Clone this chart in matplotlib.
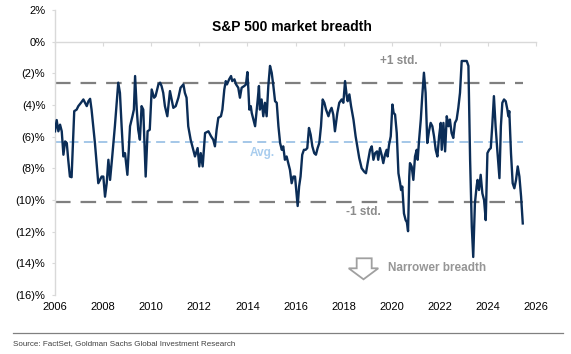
import matplotlib
matplotlib.use("Agg")
import matplotlib.pyplot as plt
import matplotlib.patches as mpatches
from matplotlib.ticker import FuncFormatter

plt.rcParams['font.family'] = ['Liberation Sans', 'DejaVu Sans']

years = [2006.00, 2006.07, 2006.14, 2006.21, 2006.28, 2006.35, 2006.42, 2006.49, 2006.55, 2006.62,
         2006.69, 2006.80, 2006.90, 2006.97, 2007.08, 2007.18, 2007.25, 2007.32, 2007.39, 2007.46,
         2007.52, 2007.66, 2007.80, 2007.94, 2008.01, 2008.08, 2008.15, 2008.22, 2008.29, 2008.38,
         2008.49, 2008.63, 2008.70, 2008.77, 2008.84, 2008.91, 2009.01, 2009.12, 2009.22, 2009.28,
         2009.33, 2009.40, 2009.46, 2009.53, 2009.60, 2009.67, 2009.77, 2009.85, 2009.94, 2010.02,
         2010.12, 2010.18, 2010.30, 2010.37, 2010.43, 2010.50, 2010.57, 2010.67, 2010.78, 2010.85,
         2010.92, 2011.02, 2011.13, 2011.22, 2011.34, 2011.40, 2011.47, 2011.54, 2011.64, 2011.75,
         2011.82, 2011.93, 2012.00, 2012.06, 2012.14, 2012.24, 2012.38, 2012.49, 2012.58, 2012.65,
         2012.72, 2012.79, 2012.90, 2012.96, 2013.04, 2013.10, 2013.15, 2013.24, 2013.32, 2013.37,
         2013.46, 2013.53, 2013.62, 2013.69, 2013.76, 2013.87, 2013.94, 2014.00, 2014.04, 2014.08,
         2014.14, 2014.18, 2014.25, 2014.32, 2014.43, 2014.48, 2014.52, 2014.59, 2014.66, 2014.73,
         2014.80, 2014.87, 2014.94, 2015.01, 2015.08, 2015.15, 2015.22, 2015.29, 2015.36, 2015.43,
         2015.49, 2015.56, 2015.63, 2015.70, 2015.77, 2015.84, 2015.91, 2015.98, 2016.09, 2016.15,
         2016.21, 2016.28, 2016.35, 2016.42, 2016.49, 2016.56, 2016.63, 2016.70, 2016.78, 2016.85,
         2016.92, 2016.99, 2017.06, 2017.13, 2017.20, 2017.27, 2017.37, 2017.43, 2017.50, 2017.57,
         2017.64, 2017.74, 2017.82, 2017.92, 2017.99, 2018.06, 2018.13, 2018.17, 2018.24, 2018.31,
         2018.41, 2018.50, 2018.57, 2018.65, 2018.75, 2018.85, 2018.93, 2019.00, 2019.10, 2019.17,
         2019.24, 2019.31, 2019.39, 2019.44, 2019.51, 2019.58, 2019.65, 2019.72, 2019.79, 2019.83,
         2019.89, 2019.96, 2020.03, 2020.08, 2020.14, 2020.21, 2020.28, 2020.35, 2020.39, 2020.44,
         2020.51, 2020.58, 2020.63, 2020.68, 2020.73, 2020.76, 2020.83, 2020.90, 2020.97, 2021.04,
         2021.08, 2021.14, 2021.21, 2021.27, 2021.34, 2021.41, 2021.48, 2021.55, 2021.62, 2021.69,
         2021.76, 2021.83, 2021.90, 2021.97, 2022.04, 2022.08, 2022.15, 2022.22, 2022.29, 2022.36,
         2022.42, 2022.49, 2022.56, 2022.63, 2022.70, 2022.77, 2022.84, 2022.91, 2023.12, 2023.19,
         2023.26, 2023.33, 2023.39, 2023.46, 2023.53, 2023.57, 2023.63, 2023.70, 2023.77, 2023.84,
         2023.91, 2023.98, 2024.05, 2024.12, 2024.18, 2024.25, 2024.32, 2024.39, 2024.48, 2024.54,
         2024.60, 2024.67, 2024.74, 2024.81, 2024.85, 2024.89, 2024.96, 2025.03, 2025.10, 2025.17,
         2025.24, 2025.31, 2025.38, 2025.45]

breadth = [-5.66, -4.95, -5.66, -5.24, -5.66, -7.14, -6.30, -6.40, -7.46, -8.52,
           -8.56, -4.39, -4.29, -4.07, -3.86, -3.65, -3.86, -4.07, -3.76, -3.61,
           -4.29, -6.40, -8.94, -8.52, -8.52, -9.79, -8.94, -7.46, -8.73, -7.25,
           -5.34, -2.59, -3.23, -5.34, -7.25, -7.04, -8.41, -5.34, -4.71, -4.29,
           -2.17, -4.29, -5.56, -6.19, -4.07, -4.29, -8.52, -5.66, -5.56, -3.02,
           -3.54, -3.44, -2.70, -2.59, -2.80, -3.23, -4.07, -4.71, -3.12, -3.65,
           -4.18, -4.07, -3.54, -2.91, -2.70, -3.23, -3.54, -5.34, -6.19, -6.83,
           -7.25, -6.72, -7.88, -7.04, -7.88, -5.77, -5.66, -5.98, -6.19, -6.61,
           -5.56, -4.81, -4.71, -4.29, -3.02, -2.49, -2.70, -2.38, -2.17, -2.49,
           -2.38, -2.70, -2.91, -3.54, -2.91, -2.80, -2.70, -1.92, -3.02, -4.29,
           -4.07, -4.50, -4.92, -5.34, -3.65, -2.80, -4.29, -3.65, -4.71, -3.86,
           -4.71, -2.80, -1.53, -1.96, -2.80, -3.76, -3.86, -5.34, -6.40, -6.83,
           -6.61, -7.46, -7.25, -7.67, -8.10, -8.94, -8.52, -8.52, -10.38, -9.15,
           -8.52, -7.14, -6.83, -6.83, -6.72, -5.45, -5.87, -6.61, -7.04, -7.14,
           -6.72, -6.40, -5.34, -3.65, -3.86, -4.29, -4.71, -4.39, -4.18, -4.60,
           -5.66, -4.50, -3.86, -3.65, -3.86, -2.49, -3.44, -3.76, -3.33, -4.07,
           -4.92, -5.98, -6.61, -7.35, -7.99, -8.20, -8.31, -7.67, -6.83, -6.61,
           -7.46, -7.04, -6.93, -7.46, -6.72, -7.14, -7.67, -7.14, -6.83, -7.25,
           -6.51, -5.98, -3.97, -4.50, -4.60, -5.77, -8.31, -8.94, -9.37, -9.15,
           -10.85, -11.27, -11.40, -11.97, -8.52, -7.67, -7.88, -8.73, -7.25, -6.83,
           -7.46, -6.19, -4.92, -3.44, -1.96, -3.23, -6.40, -5.66, -5.13, -5.34,
           -5.98, -6.83, -7.25, -5.98, -5.13, -6.83, -5.13, -6.93, -4.71, -5.34,
           -4.92, -5.77, -6.08, -5.13, -4.92, -4.18, -3.23, -1.22, -1.22, -1.53,
           -7.46, -11.69, -13.60, -10.21, -9.15, -8.73, -9.37, -8.41, -9.58, -10.00,
           -11.27, -7.04, -6.83, -6.72, -5.34, -3.44, -5.34, -6.83, -8.62, -5.34,
           -3.86, -3.65, -3.76, -4.29, -4.71, -4.39, -7.04, -8.94, -9.26, -8.73,
           -7.88, -8.52, -9.79, -11.48]

avg_level = -6.35
plus_std_level = -2.58
minus_std_level = -10.15

x_ticks = [2006, 2008, 2010, 2012, 2014, 2016, 2018, 2020, 2022, 2024, 2026]
y_ticks = [2, 0, -2, -4, -6, -8, -10, -12, -14, -16]

title = "S&P 500 market breadth"
source = "Source: FactSet, Goldman Sachs Global Investment Research"

W, H = 571, 354
fig = plt.figure(figsize=(W / 100, H / 100), dpi=100)
fig.patch.set_facecolor('white')
ax = fig.add_axes([55 / W, 1 - 295 / H, 481 / W, 285 / H])

ymin, ymax = -16, 2
ax.set_xlim(2006, 2026)
ax.set_ylim(ymin, ymax)

grey = '#7f7f7f'
light = '#d9d9d9'

# reference lines
x0, x1 = years[0], years[-1]
ax.hlines(plus_std_level, x0, x1, colors=grey, lw=1.6, linestyles=(0, (7, 4.5)), zorder=2)
ax.hlines(minus_std_level, x0, x1, colors=grey, lw=1.6, linestyles=(0, (7, 4.5)), zorder=2)
ax.hlines(avg_level, x0, x1, colors='#9dc3e6', lw=1.3, linestyles=(0, (5, 3)), zorder=2)

ax.plot(years, breadth, color='#0b2d57', lw=1.7, zorder=3, solid_joinstyle='round')

# axes styling
for s in ['top', 'right', 'bottom']:
    ax.spines[s].set_visible(False)
ax.spines['left'].set_color(light)
ax.spines['left'].set_linewidth(1.0)

ax.set_xticks(x_ticks)
ax.set_xticklabels([str(t) for t in x_ticks])
ax.tick_params(axis='x', length=0, pad=5, labelsize=8, labelcolor='#000000')
ax.set_yticks(y_ticks)
ax.yaxis.set_major_formatter(FuncFormatter(lambda v, p: f"{int(v)}%" if v >= 0 else f"({int(-v)})%"))
ax.tick_params(axis='y', length=2, width=0.8, color=light, pad=5, labelsize=8, labelcolor='#000000')

# zero line with upward ticks
zero_loc = (0 - ymin) / (ymax - ymin)
sec = ax.secondary_xaxis(zero_loc)
sec.set_xticks(x_ticks)
sec.tick_params(axis='x', direction='in', length=3, width=0.8, color=light, labelbottom=False, labeltop=False)
sec.spines['bottom'].set_color(light)
sec.spines['top'].set_color(light)
sec.spines['bottom'].set_linewidth(1.0)
sec.spines['top'].set_linewidth(1.0)

# texts
ax.text(0.4917, 0.940, title, transform=ax.transAxes, ha='center', va='center',
        fontsize=10, fontweight='bold', color='#000000')
ax.text(2019.51, -1.24, "+1 std.", ha='left', va='center', fontsize=8.5,
        fontweight='bold', color='#8c8c8c')
ax.text(2018.09, -10.76, "-1 std.", ha='left', va='center', fontsize=8.5,
        fontweight='bold', color='#8c8c8c')
ax.text(2014.08, -7.02, "Avg.", ha='left', va='center', fontsize=8.5,
        fontweight='bold', color='#a9cdee')

# arrow
arrow_pts = [(0.6272, 0.1288), (0.6584, 0.1288), (0.6584, 0.0937), (0.6721, 0.0937),
             (0.6414, 0.0551), (0.6106, 0.0937), (0.6272, 0.0937)]
ax.add_patch(mpatches.Polygon(arrow_pts, closed=True, transform=ax.transAxes,
                              facecolor='white', edgecolor='#a0a0a0', lw=1.3, zorder=4))
ax.text(0.6923, 0.0947, "Narrower breadth", transform=ax.transAxes, ha='left', va='center',
        fontsize=8.5, fontweight='bold', color='#969696')

# source line and text
fig.add_artist(plt.Line2D([13 / W, 563 / W], [1 - 333 / H, 1 - 333 / H],
                          transform=fig.transFigure, color='#808080', lw=0.9))
fig.text(13 / W, 1 - 344 / H, source, ha='left', va='center', fontsize=5.8,
         family=['Liberation Sans', 'DejaVu Sans'], color='#404040')

fig.savefig('out.png', dpi=100, facecolor='white')
